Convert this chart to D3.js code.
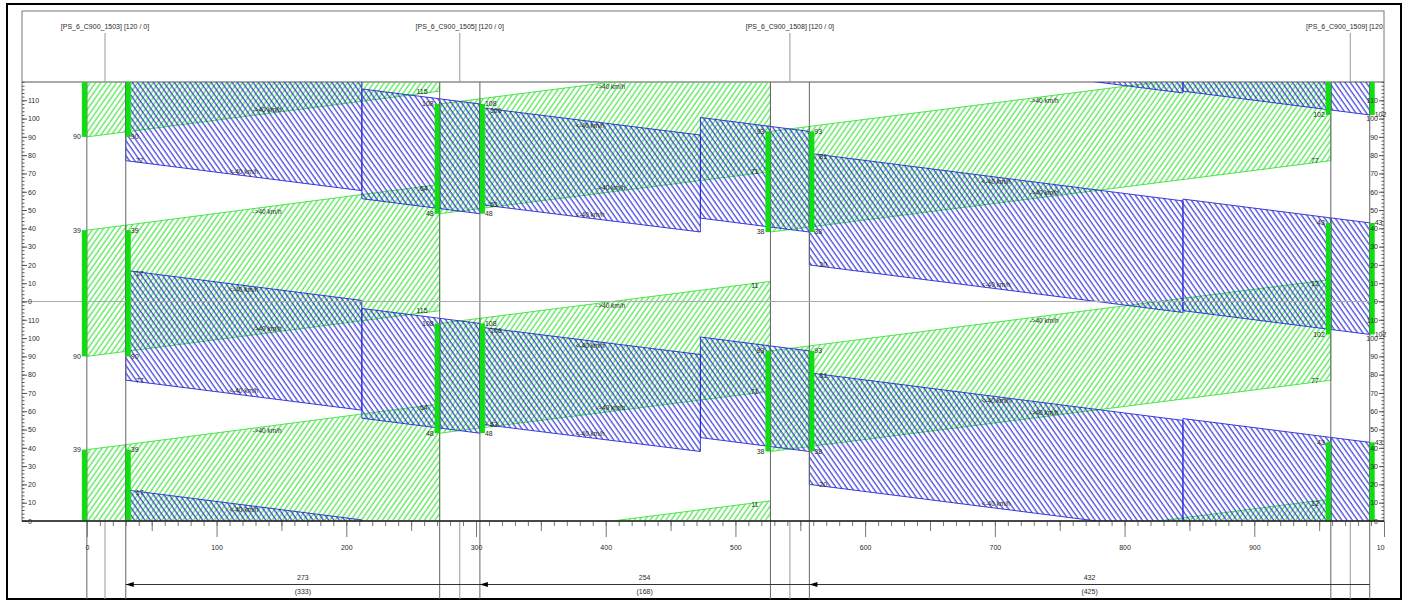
<!DOCTYPE html>
<html>
<head>
<meta charset="utf-8">
<script src="https://cdn.jsdelivr.net/npm/d3@7"></script>
<style>
  body { margin: 0; background: #fff; }
  svg { display: block; font-family: "Liberation Sans", Arial, sans-serif; }
</style>
</head>
<body>
<svg id="chart" width="1408" height="601"></svg>
<script>
// ---- signal plan data -------------------------------------------------
const cycle = 120;
const controllerNames = ["[PS_6_C900_1503] [120 / 0]", "[PS_6_C900_1505] [120 / 0]",
                         "[PS_6_C900_1508] [120 / 0]", "[PS_6_C900_1509] [120 / 0]"];
const controllerCentres = [14, 287.5, 542, 974];          // m

// stop lines (m); "L" = eastbound stop line, "R" = westbound stop line
const stopLines   = [0, 30, 272, 303, 527, 557, 959, 989];
const stopSide    = ["L", "R", "L", "R", "L", "R", "L", "R"];
const greenStart  = [90, 90, 48, 48, 38, 38, 102, 102];    // s
const greenEnd    = [159, 159, 108, 108, 93, 93, 163, 163]; // s

// band pieces: [x from, x to, lower t at from, upper t at from, lower t at to, upper t at to, labelled]
const eastBand = [
  [0,   30,  90,   159,   92.7, 161.7, 0],
  [30,  272, 92.7, 161.7, 115,  184,   1],
  [272, 303, 48,   108,   50.8, 110.8, 0],
  [303, 527, 50.8, 110.8, 71,   131,   1],
  [527, 557, 38,   93,    40.7, 95.7,  0],
  [557, 959, 40.7, 95.7,  77,   132,   1]
];
const westBand = [
  [989, 959, 102,  163,   104.7, 165.7, 0],
  [959, 845, 104.7, 165.7, 115,  176,   0],
  [845, 557, 114,  175,   140,   201,   1],
  [557, 527, 38,   93,    40.7,  95.7,  0],
  [527, 473, 40.7, 95.7,  45.6,  100.6, 0],
  [473, 303, 38,   91,    53,    106,   1],
  [303, 272, 48,   108,   50.8,  110.8, 0],
  [272, 212, 50.8, 110.8, 56.2,  116.2, 0],
  [212, 30,  60.6, 120.6, 77,    137,   1]
];
const eastLabel = "->40 km/h";
const westLabel = "<-40 km/h";

// distances between stop lines
const dimFrom   = [30, 303, 557];
const dimTo     = [303, 557, 989];
const dimExtra  = ["(333)", "(168)", "(425)"];

const distTicks = d3.range(0, 1001, 100);
const timeTicks = d3.range(0, 231, 10);

// ---- layout -------------------------------------------------------------
const plot = { left: 22, right: 1384, top: 82, bottom: 521 };
const x = d3.scaleLinear().domain([-50, 1000]).range([plot.left, plot.right]);
const y = d3.scaleLinear().domain([0, 2 * cycle]).range([plot.bottom, plot.top]);
const mod = v => ((Math.round(v) % cycle) + cycle) % cycle;

const svg = d3.select("#chart");
const defs = svg.append("defs");

const GREEN = "#38e438", BLUE = "#2626d8", BAR = "#10de10", TXT = "#2a2a2a";

function hatch(id, color, angle) {
  const p = defs.append("pattern").attr("id", id)
    .attr("patternUnits", "userSpaceOnUse")
    .attr("width", 4.3).attr("height", 10)
    .attr("patternTransform", `rotate(${angle})`);
  p.append("line").attr("x1", 1).attr("x2", 1).attr("y1", -1).attr("y2", 11)
    .attr("stroke", color).attr("stroke-width", 1.1);
}
hatch("hatchE", GREEN, 35);
hatch("hatchW", BLUE, -35);

defs.append("clipPath").attr("id", "plotClip").append("rect")
  .attr("x", plot.left).attr("y", plot.top)
  .attr("width", plot.right - plot.left).attr("height", plot.bottom - plot.top);
defs.append("clipPath").attr("id", "headClip").append("rect")
  .attr("x", plot.left).attr("y", 12).attr("width", plot.right - plot.left).attr("height", 70);
defs.append("clipPath").attr("id", "axisClip").append("rect")
  .attr("x", 8).attr("y", plot.bottom).attr("width", 1377).attr("height", 80);

// outer frame
svg.append("rect").attr("x", 7).attr("y", 4).attr("width", 1394).attr("height", 595)
  .attr("fill", "none").attr("stroke", "#000").attr("stroke-width", 2);

// plot frame + header separator
svg.append("rect").attr("x", plot.left).attr("y", 11)
  .attr("width", plot.right - plot.left).attr("height", plot.bottom - 11)
  .attr("fill", "none").attr("stroke", "#777").attr("stroke-width", 1);
svg.append("line").attr("x1", plot.left).attr("x2", plot.right)
  .attr("y1", plot.top).attr("y2", plot.top).attr("stroke", "#555");

// header: controller names
const head = svg.append("g").attr("clip-path", "url(#headClip)");
controllerCentres.forEach((c, i) => {
  head.append("line").attr("x1", x(c)).attr("x2", x(c)).attr("y1", 33).attr("y2", plot.top)
    .attr("stroke", "#999");
  head.append("text").attr("x", x(c)).attr("y", 28.5).attr("text-anchor", "middle")
    .attr("font-size", 7).attr("fill", TXT).text(controllerNames[i]);
});

// ---- bands ---------------------------------------------------------------
const cycles = d3.range(-2, 3);
const bandG = svg.append("g").attr("clip-path", "url(#plotClip)");
const path = d3.line().x(d => x(d[0])).y(d => y(d[1]));

function drawBand(pieces, pat, color) {
  cycles.forEach(k => {
    const off = k * cycle;
    pieces.forEach(p => {
      const [x0, x1, lo0, hi0, lo1, hi1] = p;
      bandG.append("path")
        .attr("d", path([[x0, lo0 + off], [x1, lo1 + off], [x1, hi1 + off], [x0, hi0 + off]]) + "Z")
        .attr("fill", `url(#${pat})`).attr("stroke", color).attr("stroke-width", 0.9);
    });
  });
}
drawBand(eastBand, "hatchE", GREEN);
drawBand(westBand, "hatchW", BLUE);

// stop lines through the plot and the distance strip
stopLines.forEach(s => {
  svg.append("line").attr("x1", x(s)).attr("x2", x(s)).attr("y1", plot.top).attr("y2", 599)
    .attr("stroke", "#666").attr("stroke-width", 1);
});
controllerCentres.forEach(c => {
  svg.append("line").attr("x1", x(c)).attr("x2", x(c)).attr("y1", plot.bottom).attr("y2", 599)
    .attr("stroke", "#999").attr("stroke-width", 1);
});

// cycle boundary
svg.append("line").attr("x1", plot.left).attr("x2", plot.right)
  .attr("y1", y(cycle)).attr("y2", y(cycle)).attr("stroke", "#aaa");

// green bars at stop lines
const barG = svg.append("g").attr("clip-path", "url(#plotClip)");
const labelG = svg.append("g").attr("font-size", 7).attr("fill", TXT);
const inView = t => t > 1 && t < 2 * cycle - 1;

stopLines.forEach((s, i) => {
  const left = stopSide[i] === "L";
  cycles.forEach(k => {
    const a = greenStart[i] + k * cycle, b = greenEnd[i] + k * cycle;
    barG.append("rect")
      .attr("x", left ? x(s) - 5 : x(s)).attr("width", 5)
      .attr("y", y(b)).attr("height", y(a) - y(b)).attr("fill", BAR);
    [a, b].forEach(t => {
      if (!inView(t)) return;
      labelG.append("text")
        .attr("x", left ? x(s) - 6 : x(s) + 5).attr("y", y(t))
        .attr("dy", "0.35em").attr("text-anchor", left ? "end" : "start")
        .text(mod(t));
    });
  });
});

// band edge values and speed labels
function bandLabels(pieces, isEast, frac) {
  cycles.forEach(k => {
    const off = k * cycle;
    pieces.forEach(p => {
      const [x0, x1, lo0, hi0, lo1, hi1, lab] = p;
      if (!lab) return;
      // values where the band reaches the next stop line
      [[lo1, 0], [hi1, isEast ? 4 : 3]].forEach(([t, dy]) => {
        if (!inView(t + off)) return;
        labelG.append("text")
          .attr("x", isEast ? x(x1) - 12 : x(x1) + 10)
          .attr("y", y(t + off) + dy).attr("dy", "0.35em")
          .attr("text-anchor", isEast ? "end" : "start")
          .text(mod(t + off));
      });
      // speed labels along the edges, inside the band
      const xm = x0 + frac * (x1 - x0);
      const lom = lo0 + frac * (lo1 - lo0) + off;
      const him = hi0 + frac * (hi1 - hi0) + off;
      [[lom, -4], [him, 4.5]].forEach(([t, dy]) => {
        const yy = y(t) + dy;
        if (yy < plot.top + 3 || yy > plot.bottom - 2) return;
        labelG.append("text").attr("x", x(xm)).attr("y", yy).attr("dy", "0.35em")
          .attr("text-anchor", "middle").attr("font-size", 6.5)
          .text(isEast ? eastLabel : westLabel);
      });
    });
  });
}
bandLabels(eastBand, true, 0.45);
bandLabels(westBand, false, 0.5);

// ---- time axes (left and right) ----------------------------------------
function timeAxis(gen, xpos) {
  const g = svg.append("g").attr("transform", `translate(${xpos},0)`);
  g.append("g").call(gen(y).tickValues(d3.range(0, 241, 2)).tickSize(2.5).tickFormat(""))
    .call(a => a.select(".domain").remove());
  g.append("g").call(gen(y).tickValues(timeTicks).tickSize(5).tickPadding(1)
      .tickFormat(d => d % cycle))
    .call(a => a.select(".domain").remove())
    .call(a => a.selectAll("text").attr("font-size", 7).attr("fill", TXT)
      .attr("font-family", "Liberation Sans, Arial, sans-serif"));
  g.selectAll("line").attr("stroke", "#555");
}
timeAxis(d3.axisRight, plot.left);
timeAxis(d3.axisLeft, plot.right);

// ---- distance axis -------------------------------------------------------
const axOuter = svg.append("g").attr("clip-path", "url(#axisClip)");
const axG = axOuter.append("g").attr("transform", `translate(0,${plot.bottom})`);
axG.append("g").call(d3.axisBottom(x).tickValues(d3.range(0, 1001, 10)).tickSize(5).tickFormat(""));
axG.append("g").call(d3.axisBottom(x).tickValues(d3.range(50, 1001, 100)).tickSize(10).tickFormat(""));
axG.append("g").call(d3.axisBottom(x).tickValues(distTicks).tickSize(16).tickPadding(8)
    .tickFormat(d => String(d)))
  .call(a => a.selectAll("text").attr("font-size", 7).attr("fill", TXT)
    .attr("font-family", "Liberation Sans, Arial, sans-serif"));
axG.selectAll(".domain").remove();
axG.selectAll("line").attr("stroke", "#777");
svg.append("line").attr("x1", plot.left).attr("x2", plot.right)
  .attr("y1", plot.bottom).attr("y2", plot.bottom).attr("stroke", "#222").attr("stroke-width", 1.5);

// ---- distance dimensions ---------------------------------------------------
const dimY = 584.5;
svg.append("line").attr("x1", x(dimFrom[0])).attr("x2", x(dimTo[dimTo.length - 1]))
  .attr("y1", dimY).attr("y2", dimY).attr("stroke", "#333");
dimFrom.forEach((a, i) => {
  const b = dimTo[i];
  svg.append("path")
    .attr("d", `M${x(a)},${dimY}L${x(a) + 8},${dimY - 2.5}L${x(a) + 8},${dimY + 2.5}Z`)
    .attr("fill", "#000");
  const cx = (x(a) + x(b)) / 2;
  labelG.append("text").attr("x", cx).attr("y", dimY - 5).attr("text-anchor", "middle")
    .text(Math.round(b - a));
  labelG.append("text").attr("x", cx).attr("y", dimY + 9).attr("text-anchor", "middle")
    .text(dimExtra[i]);
});
</script>
</body>
</html>
